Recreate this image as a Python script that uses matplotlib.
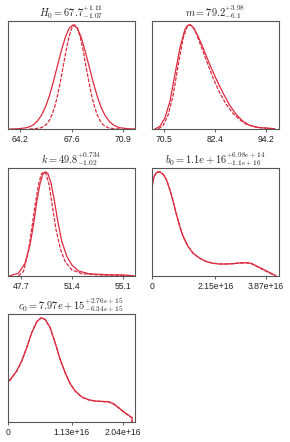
import numpy as np
import matplotlib
matplotlib.use("Agg")
import matplotlib.pyplot as plt

plt.rcParams['mathtext.fontset'] = 'cm'
plt.rcParams['font.family'] = ['Liberation Sans', 'DejaVu Sans']

# ---------------- data (densities normalised to peak=1) -------------
# H0
h0_solid_x = [63.55, 64.07, 64.58, 64.84, 65.10, 65.35, 65.61, 65.87, 66.13, 66.38, 66.64,
              66.90, 67.16, 67.41, 67.67, 67.93, 68.19, 68.44, 68.70, 68.96, 69.22, 69.47,
              69.73, 69.99, 70.25, 70.50, 70.76, 71.28, 71.79]
h0_solid_y = [0.0003, 0.0022, 0.0111, 0.0228, 0.0439, 0.0796, 0.1353, 0.2163, 0.3247, 0.4578,
              0.6065, 0.7548, 0.8825, 0.969, 1.0, 0.969, 0.8825, 0.7548, 0.6065, 0.4578, 0.3247,
              0.2163, 0.1353, 0.0796, 0.0439, 0.0228, 0.0111, 0.0022, 0.0003]
h0_dash_x = [64.80, 65.17, 65.54, 65.73, 65.91, 66.10, 66.28, 66.47, 66.65, 66.84, 67.02,
             67.21, 67.39, 67.58, 67.76, 67.95, 68.13, 68.32, 68.50, 68.69, 68.87, 69.06,
             69.24, 69.43, 69.61, 69.80, 69.98, 70.35, 70.72]
h0_dash_y = h0_solid_y

# m
m_solid_x = [68.34, 69.50, 70.66, 71.83, 72.99, 74.15, 75.31, 75.85, 76.32, 76.80, 77.24,
             78.41, 79.57, 81.13, 82.69, 84.22, 85.78, 87.34, 88.87, 90.43, 92.76, 96.24]
m_solid_y = [0.0, 0.026, 0.106, 0.266, 0.522, 0.778, 0.954, 0.990, 1.0, 0.993, 0.976,
             0.890, 0.778, 0.618, 0.474, 0.346, 0.227, 0.138, 0.074, 0.035, 0.013, 0.003]
m_dash_x = [69.11, 70.28, 71.44, 72.60, 73.77, 74.93, 75.86, 76.25, 76.63, 77.10, 77.64,
            78.80, 80.36, 81.90, 83.45, 85.01, 86.55, 88.10, 89.66, 91.99, 95.87]
m_dash_y = [0.0, 0.035, 0.138, 0.330, 0.618, 0.874, 0.986, 0.998, 1.0, 0.985, 0.954,
            0.826, 0.656, 0.490, 0.346, 0.234, 0.150, 0.090, 0.045, 0.016, 0.003]

# k
k_solid_x = [46.92, 47.52, 48.01, 48.37, 48.62, 48.86, 49.10, 49.30, 49.47, 49.66, 49.90,
             50.15, 50.39, 50.68, 51.05, 51.41, 51.89, 52.62, 53.84, 55.05, 55.90]
k_solid_y = [0.003, 0.026, 0.122, 0.298, 0.490, 0.714, 0.890, 0.976, 1.0, 0.986, 0.890,
             0.714, 0.522, 0.330, 0.186, 0.106, 0.048, 0.022, 0.013, 0.010, 0.003]
k_dash_x = [47.52, 47.89, 48.25, 48.50, 48.74, 48.98, 49.18, 49.35, 49.52, 49.76, 50.00,
            50.24, 50.56, 50.92, 51.41, 52.14, 53.35, 55.90]
k_dash_y = [0.0, 0.042, 0.234, 0.458, 0.682, 0.874, 0.976, 1.0, 0.986, 0.874, 0.666,
            0.458, 0.266, 0.138, 0.058, 0.022, 0.010, 0.003]

# b0 (units of 1e16)
b0_solid_x = [0.0, 0.0, 0.077, 0.167, 0.279, 0.392, 0.504, 0.616, 0.728, 0.841, 0.953, 1.065,
              1.233, 1.402, 1.626, 1.851, 2.075, 2.300, 2.524, 2.749, 2.973, 3.198, 3.366,
              3.534, 3.759, 3.983, 4.152, 4.208]
b0_solid_y = [0.0, 0.842, 0.954, 0.995, 1.0, 0.976, 0.922, 0.826, 0.714, 0.586, 0.474, 0.378,
              0.282, 0.218, 0.170, 0.138, 0.122, 0.115, 0.115, 0.118, 0.125, 0.128, 0.122,
              0.099, 0.067, 0.035, 0.010, 0.0]
b0_dash_x = b0_solid_x
b0_dash_y = [0.0, 0.838, 0.952, 0.994, 1.0, 0.977, 0.923, 0.828, 0.716, 0.588, 0.476, 0.380,
             0.284, 0.219, 0.171, 0.139, 0.123, 0.116, 0.116, 0.119, 0.124, 0.126, 0.119,
             0.095, 0.062, 0.030, 0.008, 0.0]

# c0 (units of 1e16)
c0_solid_x = [0.0, 0.0, 0.070, 0.159, 0.248, 0.336, 0.425, 0.514, 0.590, 0.661, 0.750, 0.839,
              0.927, 1.016, 1.105, 1.193, 1.312, 1.430, 1.548, 1.666, 1.784, 1.873, 1.962,
              2.050, 2.139, 2.198, 2.198]
c0_solid_y = [0.0, 0.378, 0.426, 0.490, 0.586, 0.714, 0.858, 0.963, 1.0, 0.986, 0.906, 0.762,
              0.602, 0.474, 0.368, 0.298, 0.240, 0.214, 0.202, 0.198, 0.195, 0.176, 0.138,
              0.099, 0.064, 0.042, 0.0]
c0_dash_x = c0_solid_x
c0_dash_y = [0.0, 0.372, 0.422, 0.487, 0.584, 0.713, 0.858, 0.963, 1.0, 0.986, 0.905, 0.760,
             0.600, 0.472, 0.366, 0.296, 0.238, 0.212, 0.200, 0.196, 0.192, 0.172, 0.134,
             0.095, 0.060, 0.040, 0.0]

titles = [r'$H_0{=}67.7^{+1.11}_{-1.07}$',
          r'$m{=}79.2^{+3.98}_{-6.1}$',
          r'$k{=}49.8^{+0.734}_{-1.02}$',
          r'$b_0{=}1.1e+16^{+6.98e+14}_{-1.1e+16}$',
          r'$c_0{=}7.97e+15^{+2.76e+15}_{-6.34e+15}$']
xlims = [(63.39, 71.69), (67.57, 97.22), (46.75, 55.97), (0.0, 4.30e16), (0.0, 2.245e16)]
tick_vals = [[64.2, 67.6, 70.9], [70.5, 82.4, 94.2], [47.7, 51.4, 55.1],
             [0.0, 2.15e16, 3.87e16], [0.0, 1.13e16, 2.04e16]]
tick_labels = [['64.2', '67.6', '70.9'], ['70.5', '82.4', '94.2'], ['47.7', '51.4', '55.1'],
               ['0', '2.15e+16', '3.87e+16'], ['0', '1.13e+16', '2.04e+16']]

scales = [1.0, 1.0, 1.0, 1e16, 1e16]
curves = [(h0_solid_x, h0_solid_y, h0_dash_x, h0_dash_y),
          (m_solid_x, m_solid_y, m_dash_x, m_dash_y),
          (k_solid_x, k_solid_y, k_dash_x, k_dash_y),
          (b0_solid_x, b0_solid_y, b0_dash_x, b0_dash_y),
          (c0_solid_x, c0_solid_y, c0_dash_x, c0_dash_y)]

# ---------------- layout ----------------
W, H = 290, 442
fig = plt.figure(figsize=(W / 100, H / 100), dpi=100)
lefts = [7.7, 151.7]
tops = [20.7, 167.7, 313.7]
pw, ph = 127.0, 108.3

color = '#dc2a3e'
for i in range(5):
    r, c = divmod(i, 2)
    l = lefts[c]
    t = tops[r]
    ax = fig.add_axes([l / W, 1 - (t + ph) / H, pw / W, ph / H])
    sx, sy, dx, dy = curves[i]
    s = scales[i]
    ax.plot(np.array(dx) * s, dy, color=color, lw=0.9, ls=(0, (3, 1.2)))
    ax.plot(np.array(sx) * s, sy, color=color, lw=0.9, ls='-')
    ax.set_xlim(*xlims[i])
    ax.set_ylim(0, 1.04)
    ax.set_yticks([])
    ax.set_xticks(tick_vals[i])
    ax.set_xticklabels(tick_labels[i])
    ax.tick_params(axis='x', direction='out', length=2.5, width=0.6, colors='#444444',
                   labelsize=6.2, pad=2, labelcolor='#222222')
    for sp in ax.spines.values():
        sp.set_color('#555555')
        sp.set_linewidth(0.8)
    ax.set_title(titles[i], fontsize=7.5, color='#222222', pad=3)

fig.savefig('out.png', dpi=100)
